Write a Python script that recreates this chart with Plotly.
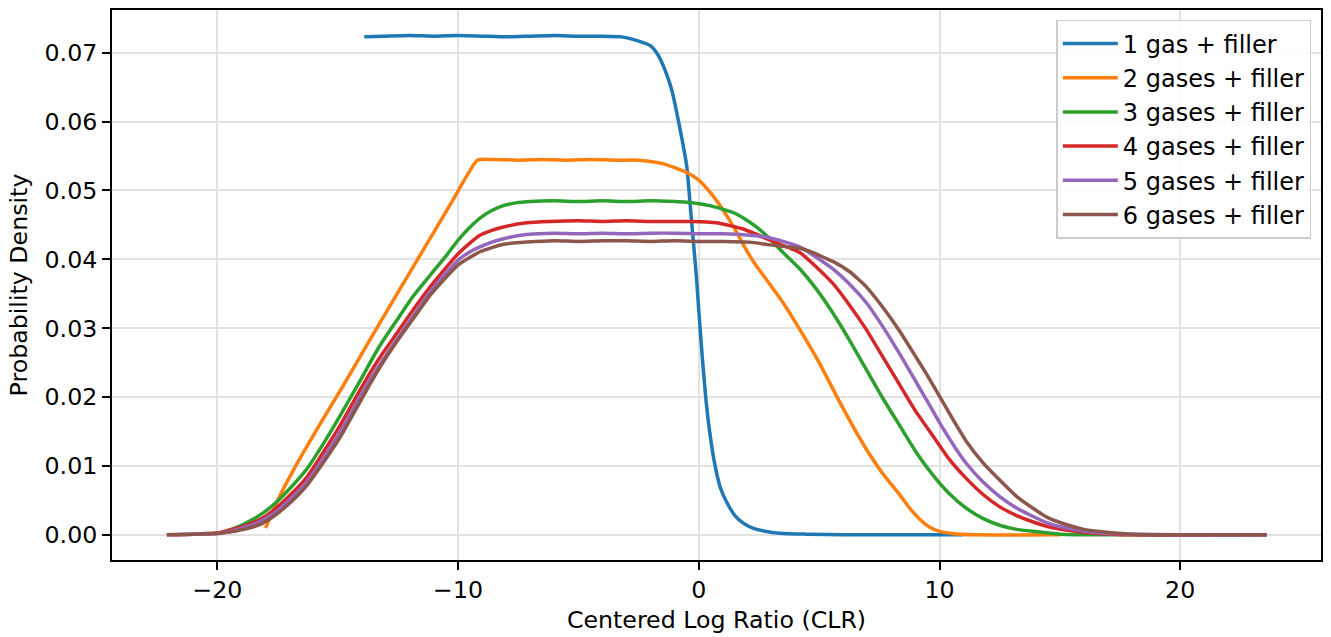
import plotly.graph_objects as go

# ---- data ----
names = ["1 gas + filler", "2 gases + filler", "3 gases + filler",
         "4 gases + filler", "5 gases + filler", "6 gases + filler"]
colors = ["#1f77b4", "#ff7f0e", "#2ca02c", "#d62728", "#9467bd", "#8c564b"]

x1 = [-13.9, -13, -12, -11, -10, -9, -8, -7, -6, -5, -4, -3.2, -2.6, -2.0, -1.7, -1.5,
      -1.3, -1.1, -0.9, -0.7, -0.5, -0.3, -0.1, 0.0, 0.15, 0.3, 0.45, 0.65, 0.9, 1.15,
      1.5, 1.85, 2.3, 2.8, 3.5, 4.5, 6.0, 11.0]
y1 = [0.0723, 0.0724, 0.0725, 0.0724, 0.0725, 0.0724, 0.0723, 0.0724, 0.0725, 0.0724,
      0.0724, 0.0723, 0.0718, 0.0710, 0.0697, 0.0683, 0.0665, 0.0643, 0.0610, 0.0575,
      0.0535, 0.0455, 0.0375, 0.0325, 0.0255, 0.0195, 0.0150, 0.0105, 0.0068, 0.0048,
      0.0028, 0.0017, 0.0009, 0.0005, 0.0002, 0.0001, 0.0, 0.0]

x2 = [-18.0, -17.5, -16.7, -15.7, -14.8, -13.8, -12.5, -11.0, -10.2, -9.2, -8.5, -7.5,
      -6.5, -5.5, -4.5, -3.5, -2.5, -2.0, -1.5, -1.0, -0.5, 0.0, 0.5, 1.0, 1.5, 1.9, 2.3,
      2.8, 3.5, 4.2, 5.0, 5.85, 6.4, 6.95, 7.6, 8.35, 8.8, 9.2, 9.6, 10.0, 10.5, 11.5, 15.0]
y2 = [0.0010, 0.0050, 0.0103, 0.0163, 0.0215, 0.0275, 0.0352, 0.0440, 0.0487, 0.0544,
      0.0545, 0.0544, 0.0545, 0.0544, 0.0545, 0.0544, 0.0544, 0.0542, 0.0539, 0.0533,
      0.0526, 0.0515, 0.0496, 0.0472, 0.0444, 0.0418, 0.0395, 0.0371, 0.0337, 0.0298,
      0.0250, 0.0193, 0.0158, 0.0125, 0.0091, 0.0058, 0.0037, 0.0022, 0.0011, 0.0005,
      0.0002, 0.0, 0.0]

x3 = [-20.0, -19.5, -19.05, -18.6, -18.1, -17.66, -17.0, -16.28, -15.5, -14.9, -14.1,
      -13.3, -12.54, -11.9, -11.16, -10.5, -10.0, -9.5, -9.09, -8.6, -8.12, -7.6, -7.0,
      -6, -5, -4, -3, -2, -1, -0.5, 0.46, 1.42, 1.9, 2.39, 2.95, 3.5, 4.2, 4.9, 5.57,
      6.27, 6.96, 7.65, 8.34, 9.03, 9.72, 10.4, 11.1, 11.8, 12.5, 13.2, 13.9, 15.0,
      17.0, 23.6]
y3 = [0.0002, 0.0007, 0.0013, 0.0021, 0.0032, 0.0044, 0.0067, 0.0096, 0.0138, 0.0173,
      0.0222, 0.0272, 0.0312, 0.0345, 0.0377, 0.0405, 0.0428, 0.0447, 0.0460, 0.0471,
      0.0478, 0.0482, 0.0484, 0.0485, 0.0484, 0.0485, 0.0484, 0.0485, 0.0484, 0.0483,
      0.0478, 0.0468, 0.0459, 0.0447, 0.0430, 0.0410, 0.0386, 0.0356, 0.0322, 0.0282,
      0.0240, 0.0198, 0.0159, 0.0120, 0.0087, 0.0060, 0.0039, 0.0024, 0.0014, 0.0008,
      0.0005, 0.0001, 0.0, 0.0]

x4 = [-22.1, -21.0, -20.0, -19.5, -19.05, -18.3, -17.66, -17.0, -16.28, -15.6, -14.9,
      -14.0, -13.3, -12.54, -11.8, -11.16, -10.5, -10.0, -9.5, -9.09, -8.6, -8.12, -7.15,
      -6.2, -5, -4, -3, -2, -1, -0.3, 0.73, 1.84, 2.95, 4.19, 4.88, 5.57, 6.27, 6.96,
      7.65, 8.34, 9.0, 9.72, 10.4, 11.11, 11.8, 12.49, 13.2, 13.87, 14.5, 15.26, 16.6,
      18.0, 23.6]
y4 = [0.0, 0.0001, 0.0003, 0.0007, 0.0011, 0.0021, 0.0036, 0.0057, 0.0084, 0.0120,
      0.0159, 0.0215, 0.0255, 0.0293, 0.0330, 0.0360, 0.0388, 0.0408, 0.0424, 0.0435,
      0.0442, 0.0447, 0.0453, 0.0455, 0.0456, 0.0455, 0.0456, 0.0455, 0.0455, 0.0455,
      0.0453, 0.0444, 0.0428, 0.0410, 0.0389, 0.0365, 0.0333, 0.0298, 0.0258, 0.0218,
      0.0180, 0.0144, 0.0110, 0.0082, 0.0059, 0.0041, 0.0028, 0.0019, 0.0012, 0.0007,
      0.0002, 0.0, 0.0]

x5 = [-22.1, -21.0, -20.0, -19.5, -19.05, -18.3, -17.66, -17.0, -16.28, -15.6, -14.9,
      -13.8, -13.2, -12.54, -11.8, -11.16, -10.5, -10.0, -9.5, -9.09, -8.6, -8.12, -7.15,
      -6.0, -5, -4, -3, -2, -1, 0, 1.0, 2.11, 2.81, 3.5, 4.19, 4.88, 5.57, 6.27, 6.96,
      7.65, 8.34, 8.96, 9.51, 10.1, 10.7, 11.11, 11.8, 12.49, 13.2, 13.87, 14.5, 15.26,
      16.6, 18.0, 20.0, 23.6]
y5 = [0.0, 0.0001, 0.0002, 0.0005, 0.0009, 0.0018, 0.0031, 0.0051, 0.0077, 0.0111,
      0.0149, 0.0217, 0.0250, 0.0284, 0.0321, 0.0353, 0.0380, 0.0399, 0.0411, 0.0418,
      0.0425, 0.0430, 0.0436, 0.0438, 0.0437, 0.0438, 0.0437, 0.0438, 0.0438, 0.0437,
      0.0437, 0.0435, 0.0432, 0.0426, 0.0418, 0.0403, 0.0386, 0.0364, 0.0337, 0.0302,
      0.0263, 0.0226, 0.0193, 0.0157, 0.0124, 0.0104, 0.0077, 0.0056, 0.0039, 0.0027,
      0.0017, 0.0010, 0.0003, 0.0001, 0.0, 0.0]

x6 = [-22.1, -21.0, -20.0, -19.5, -19.05, -18.3, -17.66, -17.0, -16.28, -15.6, -14.9,
      -13.79, -13.2, -12.54, -11.8, -11.16, -10.5, -10.0, -9.5, -9.09, -8.6, -8.12, -7.15,
      -6, -5, -4, -3, -2, -1, 0, 1, 2.1, 2.95, 4.19, 4.8, 5.3, 5.57, 6.27, 6.96, 7.65,
      8.34, 8.9, 9.45, 10.07, 10.6, 11.11, 11.8, 12.49, 13.2, 13.87, 14.5, 15.26, 16.0,
      16.64, 18.0, 20.0, 23.6]
y6 = [0.0, 0.0001, 0.0002, 0.0004, 0.0007, 0.0014, 0.0027, 0.0046, 0.0072, 0.0105,
      0.0142, 0.0211, 0.0246, 0.0281, 0.0317, 0.0348, 0.0374, 0.0392, 0.0403, 0.0411,
      0.0417, 0.0422, 0.0425, 0.0427, 0.0426, 0.0427, 0.0427, 0.0426, 0.0427, 0.0426,
      0.0426, 0.0425, 0.0421, 0.0416, 0.0409, 0.0401, 0.0397, 0.0382, 0.0360, 0.0330,
      0.0296, 0.0265, 0.0234, 0.0197, 0.0165, 0.0136, 0.0105, 0.0080, 0.0056, 0.0039,
      0.0025, 0.0015, 0.0008, 0.0005, 0.0001, 0.0, 0.0]

xs = [x1, x2, x3, x4, x5, x6]
ys = [y1, y2, y3, y4, y5, y6]

x_ticks = [-20, -10, 0, 10, 20]
y_ticks = [0.00, 0.01, 0.02, 0.03, 0.04, 0.05, 0.06, 0.07]

FONT = "DejaVu Sans"
FS = 23.7

fig = go.Figure()
for xv, yv, nm, c in zip(xs, ys, names, colors):
    fig.add_trace(go.Scatter(x=xv, y=yv, mode="lines", name=nm,
                             line=dict(color=c, width=3.5, shape="spline",
                                       smoothing=0.5)))

axis_common = dict(
    showline=True, mirror=True, linecolor="black", linewidth=1.9,
    ticks="outside", ticklen=8, tickwidth=1.9, tickcolor="black",
    showgrid=True, gridcolor="#e2e2e2", gridwidth=1.8, zeroline=False,
    tickfont=dict(family=FONT, size=FS, color="black"),
)

fig.update_layout(
    width=1331, height=637,
    margin=dict(l=112, r=8, t=8, b=75),
    paper_bgcolor="white", plot_bgcolor="white",
    font=dict(family=FONT, size=FS, color="black"),
    xaxis=dict(range=[-24.38, 25.85], tickvals=x_ticks,
               title=dict(text="Centered Log Ratio (CLR)", standoff=8,
                          font=dict(family=FONT, size=FS, color="black")),
               **axis_common),
    yaxis=dict(range=[-0.00365, 0.0762], tickvals=y_ticks, tickformat=".2f",
               title=dict(text="Probability Density", standoff=10,
                          font=dict(family=FONT, size=FS, color="black")),
               **axis_common),
    legend=dict(x=0.992, y=0.982, xanchor="right", yanchor="top",
                bgcolor="rgba(255,255,255,0.85)", bordercolor="#cccccc",
                borderwidth=1.5, font=dict(family=FONT, size=24, color="black"),
                itemwidth=55, tracegroupgap=0),
)

fig.write_html("out.html")
